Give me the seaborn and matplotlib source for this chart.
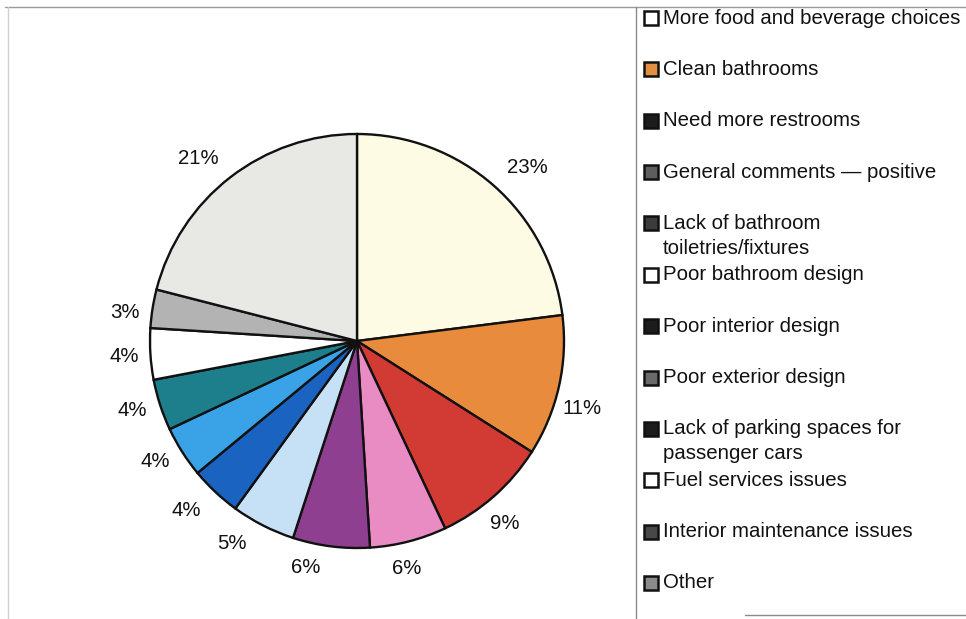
import numpy as np
import matplotlib
matplotlib.use("Agg")
import matplotlib.pyplot as plt
from matplotlib.patches import Rectangle
from matplotlib.lines import Line2D
import seaborn as sns

sns.set_theme(style="white")
plt.rcParams["font.family"] = ["Liberation Sans", "DejaVu Sans"]

# Survey comment categories and their shares (percent)
categories = [
    "More food and beverage choices",
    "Clean bathrooms",
    "Need more restrooms",
    "General comments \u2014 positive",
    "Lack of bathroom\ntoiletries/fixtures",
    "Poor bathroom design",
    "Poor interior design",
    "Poor exterior design",
    "Lack of parking spaces for\npassenger cars",
    "Fuel services issues",
    "Interior maintenance issues",
    "Other",
]
shares = [23, 11, 9, 6, 6, 5, 4, 4, 4, 4, 3, 21]

slice_colors = [
    "#fdfbe4", "#e98b3d", "#d23b34", "#e98cc3", "#8f3f8f", "#c6e0f6",
    "#1a63c1", "#3aa3e8", "#1c7f8b", "#ffffff", "#b3b3b3", "#e8e8e5",
]
legend_swatches = [
    "#ffffff", "#e38f42", "#1c1c1c", "#5e5e5e", "#3c3c3c", "#ffffff",
    "#1c1c1c", "#6a6a6a", "#1c1c1c", "#ffffff", "#484848", "#8a8a8a",
]

# Label placement: radial distance (in pie radii) and angular nudge (degrees)
label_radius = [1.172, 1.134, 1.137, 1.123, 1.124, 1.148,
                1.161, 1.138, 1.137, 1.128, 1.129, 1.171]
label_nudge = [-3.1, -4.0, -2.4, -2.0, -5.5, -4.7,
               -2.1, -1.5, -0.9, 0.3, 2.1, 3.2]

W, H = 966, 619
FS = 14.7
fig = plt.figure(figsize=(W / 100, H / 100), dpi=100)
fig.patch.set_facecolor("white")

# Pie axes: radius 1 maps to ~207 px, centred at (357, 341) px from top-left
R_PX = 207.0
lim = 1.3
size_px = 2 * lim * R_PX
cx, cy = 357.0, H - 341.0
ax = fig.add_axes([(cx - size_px / 2) / W, (cy - size_px / 2) / H,
                   size_px / W, size_px / H])
ax.set_aspect("equal")
ax.axis("off")

wedges, texts, autotexts = ax.pie(
    shares,
    colors=slice_colors,
    startangle=90,
    counterclock=False,
    autopct=lambda p: f"{p:.0f}%",
    pctdistance=1.15,
    wedgeprops=dict(edgecolor="#111111", linewidth=1.7),
    textprops=dict(fontsize=FS, color="#111111"),
    radius=1.0,
    frame=False,
)
ax.set_xlim(-lim, lim)
ax.set_ylim(-lim, lim)

# Move percentage labels outward along each wedge's mid-angle
for w, t, r, d in zip(wedges, autotexts, label_radius, label_nudge):
    mid = np.deg2rad((w.theta1 + w.theta2) / 2 + d)
    t.set_position((r * np.cos(mid), r * np.sin(mid)))
    t.set_ha("center")
    t.set_va("center")

# Legend drawn in figure pixel coordinates
slot0, slot_step, line_step = 18.0, 51.36, 25.0
for i, (label, sw) in enumerate(zip(categories, legend_swatches)):
    y_line = slot0 + slot_step * i
    fig.patches.append(Rectangle((644 / W, 1 - (y_line + 7) / H), 14 / W, 14 / H,
                                 transform=fig.transFigure, facecolor=sw,
                                 edgecolor="#111111", linewidth=1.8))
    for k, part in enumerate(label.split("\n")):
        fig.text(663 / W, 1 - (y_line + k * line_step) / H, part,
                 fontsize=FS, color="#111111", ha="left", va="center")

# Faint frame lines
def fig_line(x0, y0, x1, y1, color, lw):
    fig.lines.append(Line2D([x0 / W, x1 / W], [1 - y0 / H, 1 - y1 / H],
                            transform=fig.transFigure, color=color, linewidth=lw))

fig_line(5, 7, 966, 7, "#9a9a9a", 1.0)
fig_line(8, 7, 8, 619, "#d0d0d0", 1.0)
fig_line(636, 7, 636, 619, "#8a8a8a", 1.0)
fig_line(745, 615, 966, 615, "#8a8a8a", 1.0)

fig.savefig("out.png", dpi=100, facecolor="white")
